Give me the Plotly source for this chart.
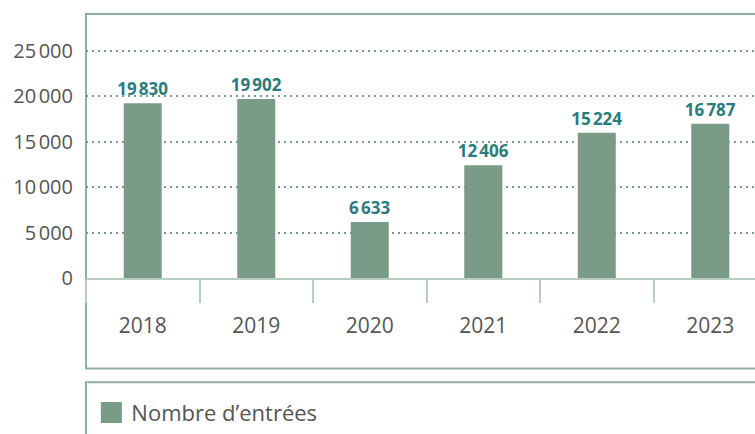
import plotly.graph_objects as go

years = ["2018", "2019", "2020", "2021", "2022", "2023"]
bar_heights = [19220, 19700, 6160, 12420, 15980, 16960]
value_labels = ["19\u202f830", "19\u202f902", "6\u202f633", "12\u202f406", "15\u202f224", "16\u202f787"]
y_tickvals = [0, 5000, 10000, 15000, 20000, 25000]
y_ticktext = ["0", "5\u202f000", "10\u202f000", "15\u202f000", "20\u202f000", "25\u202f000"]
series_name = "Nombre d\u2019entrées"

BAR = "#7a9b88"
FRAME = "#8fae9d"
TEAL = "#2a7b7d"
GREY = "#555555"
FONT = "Open Sans"

fig = go.Figure()
fig.add_trace(go.Bar(
    x=years, y=bar_heights, marker=dict(color=BAR, line=dict(width=0)),
    width=0.335, showlegend=False, name=series_name,
    text=value_labels, textposition="outside", constraintext="none", cliponaxis=False,
    textfont=dict(family=FONT, size=17, color=TEAL, weight="bold"),
))
# legend entry (larger square swatch)
fig.add_trace(go.Scatter(
    x=[None], y=[None], mode="markers", name=series_name,
    marker=dict(symbol="square", size=16, color=BAR, line=dict(color=BAR, width=5)),
    showlegend=True,
))

# outer frame and legend frame
fig.add_shape(type="rect", xref="paper", yref="paper", x0=0, x1=1.1, y0=-0.343, y1=1,
              line=dict(color=FRAME, width=2), layer="below")
fig.add_shape(type="rect", xref="paper", yref="paper", x0=0, x1=1.1, y0=-0.395, y1=-0.9,
              line=dict(color=FRAME, width=2), layer="below")

fig.update_layout(
    width=755, height=434,
    margin=dict(l=86, r=0, t=14, b=151),
    paper_bgcolor="white", plot_bgcolor="white",
    font=dict(family=FONT, color=GREY),
    showlegend=True,
    legend=dict(x=0.008, y=-0.51, xanchor="left", yanchor="middle",
                font=dict(family=FONT, size=22, color=GREY), bgcolor="rgba(0,0,0,0)",
                itemsizing="trace"),
    xaxis=dict(
        type="category", range=[-0.5, 5.394], showgrid=False,
        showline=True, linecolor="#b7cdc2", linewidth=2,
        ticks="outside", tickson="boundaries", ticklen=23, tickcolor="#b7cdc2", tickwidth=1.5,
        tickfont=dict(family=FONT, size=21, color=GREY), ticklabelstandoff=28,
        zeroline=False,
    ),
    yaxis=dict(
        range=[0, 29050], tickvals=y_tickvals, ticktext=y_ticktext,
        showgrid=True, gridcolor=BAR, gridwidth=2, griddash="2px,4px",
        zeroline=False, showline=False, ticks="",
        tickfont=dict(family=FONT, size=20, color=GREY), ticklabelstandoff=12,
    ),
)

fig.write_html("out.html", config={"displayModeBar": False},
               post_script="document.body.style.margin='0';")
